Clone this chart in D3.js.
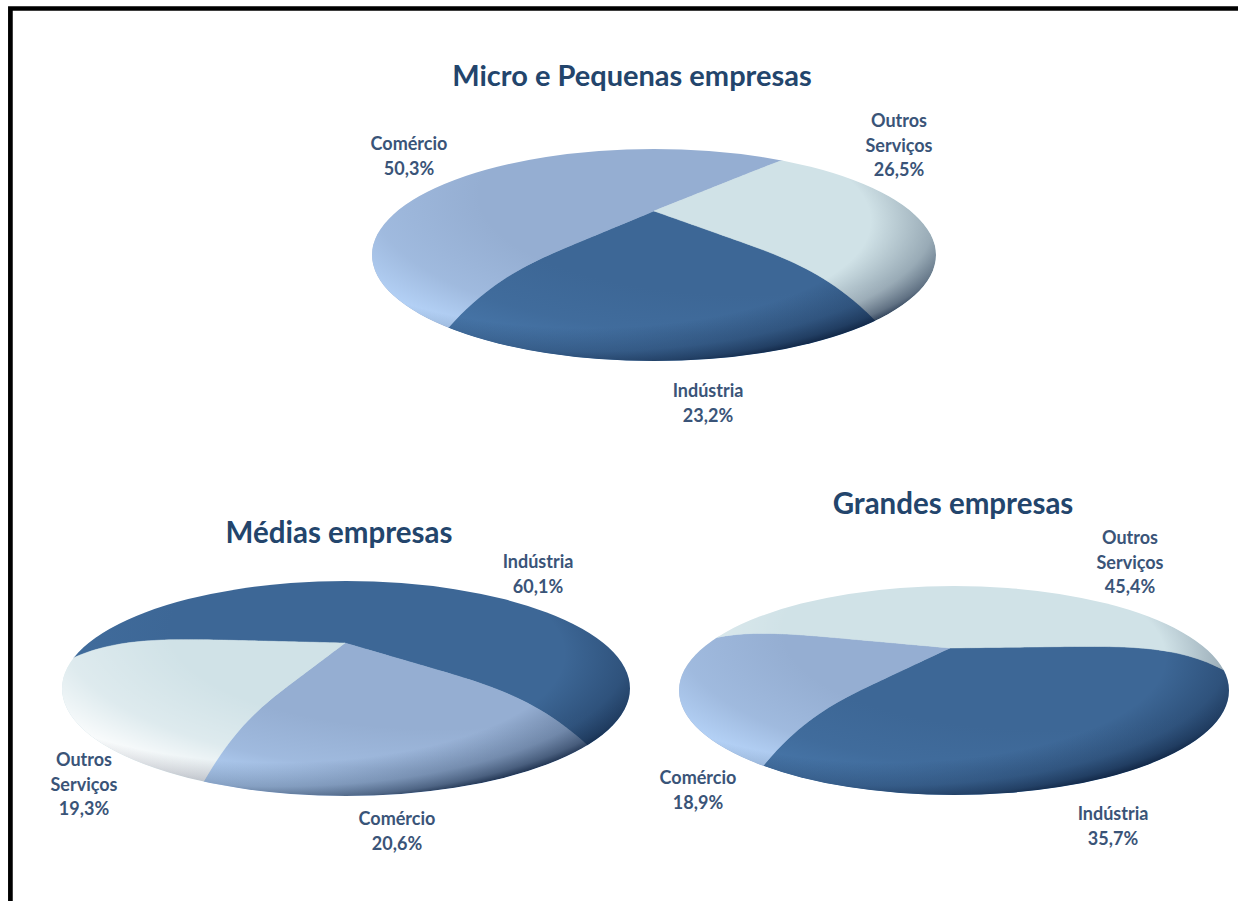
<!DOCTYPE html>
<html lang="pt">
<head>
<meta charset="utf-8">
<title>Distribuição por setor e porte de empresa</title>
<script src="https://cdn.jsdelivr.net/npm/d3@7"></script>
<style>
  html, body { margin: 0; padding: 0; background: #fff; }
  svg { display: block; }
  text { font-family: Lato, "Open Sans", sans-serif; font-weight: 700; text-anchor: middle; }
</style>
</head>
<body>
<svg id="chart" width="1238" height="901"></svg>
<script>
// Sector shares per company size, in percent
const sectors = ["Indústria", "Comércio", "Outros Serviços"];
const microValues = [23.2, 50.3, 26.5];
const mediasValues = [60.1, 20.6, 19.3];
const grandesValues = [35.7, 18.9, 45.4];
const panelTitles = ["Micro e Pequenas empresas", "Médias empresas", "Grandes empresas"];

const sliceColors = ["#3d6796", "#95aed2", "#d0e2e7"];
const glowColors = ["#4877aa", "#b8d6fb", "#ffffff"];

// Placement of each tilted disc: extents of its outline and the screen position of its hub
const panels = [
  { title: panelTitles[0], values: microValues, start: 136, x0: 372, x1: 936, y0: 149, y1: 361, hubX: 654, hubY: 211,
    titleX: 632, titleY: 76, titleSize: 29,
    labels: [[708, 391], [409, 144], [899, 121]] },
  { title: panelTitles[1], values: mediasValues, start: 274, x0: 62, x1: 630, y0: 581, y1: 796, hubX: 345, hubY: 643,
    titleX: 339, titleY: 533, titleSize: 29.5,
    labels: [[538, 562], [397, 819], [84, 760]] },
  { title: panelTitles[2], values: grandesValues, start: 88, x0: 679, x1: 1229, y0: 586, y1: 795, hubX: 950, hubY: 648,
    titleX: 953, titleY: 504, titleSize: 29.5,
    labels: [[1113, 814], [698, 778], [1130, 538]] }
];

const svg = d3.select("#chart");

// Page frame
svg.append("rect").attr("width", 1238).attr("height", 901).attr("fill", "#fff");
svg.append("path")
  .attr("d", "M10.4 901V8.5H1238")
  .attr("fill", "none").attr("stroke", "#000").attr("stroke-width", 4.7);

const defs = svg.append("defs");

function radial(id, cx, cy, r, color, stops) {
  const g = defs.append("radialGradient").attr("id", id)
    .attr("cx", cx).attr("cy", cy).attr("r", r);
  g.selectAll("stop").data(stops).join("stop")
    .attr("offset", d => d[0])
    .attr("stop-color", color)
    .attr("stop-opacity", d => d[1]);
}
// Bevel lighting: a sector-tinted glow towards the lower left and a dark falloff at the rim
glowColors.forEach((c, i) => radial("glow-" + i, 0.66, 0.22, 0.85, c, [[0.55, 0], [0.78, 0.3], [0.95, 0.95]]));
radial("rim", 0.38, 0.34, 0.7, "#0a1c38", [[0.72, 0], [0.88, 0.28], [0.96, 0.58], [1, 0.85]]);

const pie = d3.pie().sort(null).value(d => d);
const line = d3.line().curve(d3.curveLinear);

panels.forEach((panel, index) => {
  const rx = (panel.x1 - panel.x0) / 2;
  const ry = (panel.y1 - panel.y0) / 2;
  const cx = (panel.x0 + panel.x1) / 2;
  const cy = (panel.y0 + panel.y1) / 2;
  const back = panel.hubY - panel.y0;
  const front = panel.y1 - panel.hubY;

  // Perspective of the disc, derived from how far the hub sits from the outline's centre
  const p = (front - back) / (front + back);
  const depth = back * (1 + p);
  const width = rx * Math.sqrt(1 - p * p);

  // Plain perspective projection of polar disc coordinates
  function flat(theta, r) {
    const u = Math.sin(theta) * r;
    const v = -Math.cos(theta) * r;
    const w = 1 - p * v;
    return [panel.hubX + width * u / w, panel.hubY + depth * v / w];
  }
  // Same projection with the bevel, which bends spokes downwards towards the rim
  function bevelled(theta, r) {
    const [x, y] = flat(theta, r);
    const t = Math.max(0, (r - 0.35) / 0.65);
    const facing = Math.pow((1 - Math.cos(theta)) / 2, 2.5);
    return [x, y + 85 * Math.pow(t, 4) * facing];
  }

  const arcs = pie.startAngle(panel.start * Math.PI / 180)
    .endAngle((panel.start + 360) * Math.PI / 180)(panel.values);

  const clipId = "disc-" + index;
  defs.append("clipPath").attr("id", clipId)
    .append("ellipse").attr("cx", cx).attr("cy", cy).attr("rx", rx).attr("ry", ry);

  const g = svg.append("g").attr("clip-path", `url(#${clipId})`);

  const spoke = d3.range(0, 1.2501, 0.02);
  const reach = 1.5;

  const slicePath = d => {
    const sweep = d3.range(d.startAngle, d.endAngle, 0.02).concat([d.endAngle]);
    const pts = spoke.map(r => bevelled(d.startAngle, r))
      .concat(sweep.map(a => flat(a, reach)))
      .concat(spoke.slice().reverse().map(r => bevelled(d.endAngle, r)));
    return line(pts) + "Z";
  };

  g.selectAll("path.slice").data(arcs).join("path")
    .attr("class", "slice")
    .attr("fill", (d, i) => sliceColors[i])
    .attr("stroke", (d, i) => sliceColors[i])
    .attr("stroke-width", 0.5)
    .attr("d", slicePath);

  arcs.forEach((d, i) => {
    const id = `slice-${index}-${i}`;
    defs.append("clipPath").attr("id", id).append("path").attr("d", slicePath(d));
    g.append("ellipse")
      .attr("clip-path", `url(#${id})`)
      .attr("cx", cx).attr("cy", cy).attr("rx", rx).attr("ry", ry)
      .attr("fill", `url(#glow-${i})`);
  });

  g.append("ellipse")
    .attr("cx", cx).attr("cy", cy).attr("rx", rx).attr("ry", ry)
    .attr("fill", "url(#rim)");

  // Category and share labels, one text line per row
  const fmt = v => v.toFixed(1).replace(".", ",") + "%";
  arcs.forEach((d, i) => {
    const rows = sectors[i].split(" ").concat(fmt(panel.values[i]));
    const [lx, ly] = panel.labels[i];
    svg.append("g").selectAll("text").data(rows).join("text")
      .attr("x", lx)
      .attr("y", (row, k) => ly + k * 24.5)
      .attr("dy", "0.35em")
      .attr("font-size", 18)
      .attr("fill", "#3a5478")
      .text(row => row);
  });

  svg.append("text")
    .attr("x", panel.titleX).attr("y", panel.titleY)
    .attr("dy", "0.35em")
    .attr("font-size", panel.titleSize)
    .attr("fill", "#23456c")
    .text(panel.title);
});
</script>
</body>
</html>
